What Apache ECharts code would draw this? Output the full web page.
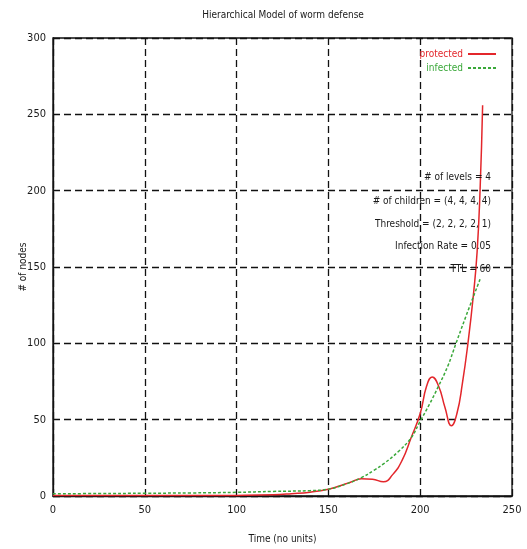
<!DOCTYPE html>
<html>
<head>
<meta charset="utf-8">
<script src="https://cdn.jsdelivr.net/npm/echarts@6/dist/echarts.min.js"></script>
<style>
  html, body { margin: 0; padding: 0; background: #fff; }
  #chart { width: 527px; height: 549px; }
</style>
</head>
<body>
<div id="chart"></div>
<script>
// Hierarchical worm-defense simulation: node counts over time
const protectedTime = [0, 20, 40, 60, 80, 100, 120, 130, 140, 150, 156, 162, 168, 174, 180, 185, 190, 195, 200, 203.5, 206.5, 210, 213.5, 217, 220, 223, 226, 229, 231, 232.6, 234];
const protectedNodes = [0.3, 0.3, 0.3, 0.3, 0.3, 0.4, 0.8, 1.5, 2.5, 4.4, 6.5, 9, 11.3, 11, 9.3, 14, 23, 38, 54, 72, 78, 72, 58, 46, 54, 74, 100, 132, 160, 200, 256];

const infectedTime = [0, 25, 50, 75, 100, 120, 140, 150, 160, 168, 175, 180, 188, 195, 200, 205, 210, 215, 219.5, 225, 232.6];
const infectedNodes = [1.5, 1.6, 1.8, 2.0, 2.4, 3.0, 3.5, 4.5, 8, 12, 17, 21, 29, 38, 49, 60, 72, 85, 100, 118, 142];

const xTicks = [0, 50, 100, 150, 200, 250];
const yTicks = [0, 50, 100, 150, 200, 250, 300];

const titleText = 'Hierarchical Model of worm defense';
const xName = 'Time (no units)';
const yName = '# of nodes';
const notes = [
  '# of levels = 4',
  '# of children = (4, 4, 4, 4)',
  'Threshold = (2, 2, 2, 2, 1)',
  'Infection Rate = 0.05',
  'TTL = 60'
];

const FONT = "'DejaVu Sans Condensed', 'Liberation Sans', sans-serif";
const RED = '#e3262b';
const GREEN = '#3aa83a';
const INK = '#1a1a1a';

const toPairs = (xs, ys) => xs.map((x, i) => [x, ys[i]]);

const gridLine = {
  show: true,
  lineStyle: { color: '#111', width: 1.3, type: [7, 4] }
};

const chart = echarts.init(document.getElementById('chart'), null, { renderer: 'canvas' });

const noteY = [177, 201, 224, 246, 269];

chart.setOption({
  animation: false,
  backgroundColor: '#fff',
  textStyle: { fontFamily: FONT },
  grid: {
    left: 53, right: 15, top: 38, bottom: 50,
    show: true, borderColor: '#111', borderWidth: 1.3, backgroundColor: 'transparent'
  },
  legend: {
    orient: 'vertical',
    right: 25,
    top: 44,
    align: 'right',
    itemWidth: 28,
    itemHeight: 8,
    itemGap: 4,
    itemStyle: { opacity: 0 },
    textStyle: { fontFamily: FONT, fontSize: 10 },
    data: [
      { name: 'protected', textStyle: { color: RED } },
      { name: 'infected', textStyle: { color: GREEN } }
    ]
  },
  xAxis: {
    type: 'value',
    min: xTicks[0],
    max: xTicks[xTicks.length - 1],
    interval: xTicks[1] - xTicks[0],
    name: xName,
    nameLocation: 'middle',
    nameGap: 38,
    nameTextStyle: { color: INK, fontSize: 10, fontFamily: FONT },
    axisLine: { show: true, lineStyle: { color: '#111', width: 1.3 } },
    axisTick: { show: true, inside: true, length: 5, lineStyle: { color: '#111' } },
    axisLabel: { color: INK, fontSize: 11, margin: 9, fontFamily: FONT },
    splitLine: gridLine
  },
  yAxis: {
    type: 'value',
    min: yTicks[0],
    max: yTicks[yTicks.length - 1],
    interval: yTicks[1] - yTicks[0],
    name: yName,
    nameLocation: 'middle',
    nameRotate: 90,
    nameGap: 25,
    nameMoveOverlap: false,
    nameTextStyle: { color: INK, fontSize: 10, fontFamily: FONT },
    axisLine: { show: true, lineStyle: { color: '#111', width: 1.3 } },
    axisTick: { show: true, inside: true, length: 5, lineStyle: { color: '#111' } },
    axisLabel: { color: INK, fontSize: 11, margin: 7, fontFamily: FONT },
    splitLine: gridLine
  },
  graphic: [
    {
      type: 'text',
      x: 283, y: 15,
      style: { text: titleText, fill: INK, font: '10px ' + FONT, align: 'center', verticalAlign: 'middle' }
    }
  ].concat(notes.map((t, i) => ({
    type: 'text',
    x: 491, y: noteY[i],
    z: 10,
    style: { text: t, fill: INK, font: '10px ' + FONT, align: 'right', verticalAlign: 'middle' }
  }))),
  series: [
    {
      name: 'protected',
      type: 'line',
      data: toPairs(protectedTime, protectedNodes),
      showSymbol: false,
      symbol: 'none',
      smooth: 0.5,
      lineStyle: { color: RED, width: 1.5 },
      itemStyle: { color: RED },
      z: 3
    },
    {
      name: 'infected',
      type: 'line',
      data: toPairs(infectedTime, infectedNodes),
      showSymbol: false,
      symbol: 'none',
      smooth: 0.4,
      lineStyle: { color: GREEN, width: 1.5, type: [3, 2] },
      itemStyle: { color: GREEN },
      z: 4
    }
  ]
});
</script>
</body>
</html>
